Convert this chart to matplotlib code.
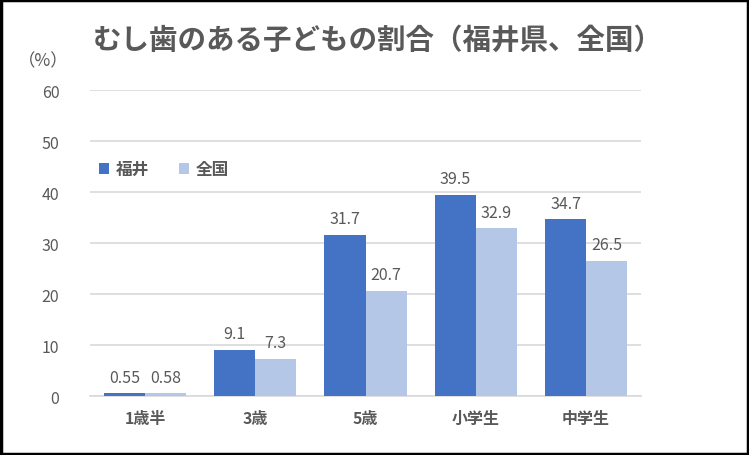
import matplotlib.pyplot as plt
import numpy as np

plt.rcParams['font.family'] = ['Noto Sans CJK JP', 'DejaVu Sans']

categories = ['1歳半', '3歳', '5歳', '小学生', '中学生']
fukui = [0.55, 9.1, 31.7, 39.5, 34.7]
zenkoku = [0.58, 7.3, 20.7, 32.9, 26.5]
fukui_labels = ['0.55', '9.1', '31.7', '39.5', '34.7']
zenkoku_labels = ['0.58', '7.3', '20.7', '32.9', '26.5']

text_color = '#595959'
c_fukui = '#4472C4'
c_zen = '#B4C7E7'

fig = plt.figure(figsize=(7.49, 4.56), dpi=100)
ax = fig.add_axes([0.120, 0.129, 0.736, 0.671])

x = np.arange(len(categories))
w = 0.372
b1 = ax.bar(x - w / 2, fukui, w, color=c_fukui, label='福井', zorder=3)
b2 = ax.bar(x + w / 2, zenkoku, w, color=c_zen, label='全国', zorder=3)

# 数値ラベル
for rect, lab in zip(b1, fukui_labels):
    ax.text(rect.get_x() + rect.get_width() / 2, rect.get_height() + 1.5, lab,
            ha='center', va='bottom', fontsize=11.5, color=text_color)
for rect, lab in zip(b2, zenkoku_labels):
    ax.text(rect.get_x() + rect.get_width() / 2, rect.get_height() + 1.5, lab,
            ha='center', va='bottom', fontsize=11.5, color=text_color)

ax.set_xlim(-0.5, 4.5)
ax.set_ylim(0, 60)
ax.set_yticks(range(0, 61, 10))
ax.set_xticks(x)
ax.set_xticklabels(categories, fontsize=11.5, fontweight='bold', color=text_color)
ax.tick_params(axis='y', labelsize=11.5, labelcolor=text_color, length=0, pad=22)
ax.tick_params(axis='x', length=0, pad=10)
ax.grid(axis='y', color='#D9D9D9', linewidth=1.2, zorder=0)
for s in ['top', 'right', 'left']:
    ax.spines[s].set_visible(False)
ax.spines['bottom'].set_color('#D9D9D9')
ax.spines['bottom'].set_linewidth(1.2)

ax.legend(loc='upper left', bbox_to_anchor=(-0.01, 0.82), ncol=2, frameon=False,
          labelcolor=text_color, handlelength=0.6, handleheight=0.6,
          columnspacing=1.8, handletextpad=0.4, prop={'weight': 'bold', 'size': 12})

fig.text(0.505, 0.91, 'むし歯のある子どもの割合（福井県、全国）', ha='center', va='center',
         fontsize=20.5, fontweight='bold', color=text_color)
fig.text(0.058, 0.865, '（%）', ha='center', va='center', fontsize=12.5, color=text_color)

# 外枠
fig.patches.append(plt.Rectangle((0.002, 0.003), 0.996, 0.994, transform=fig.transFigure,
                                 fill=False, edgecolor='black', linewidth=2.5))

fig.savefig('out.png', dpi=100)
